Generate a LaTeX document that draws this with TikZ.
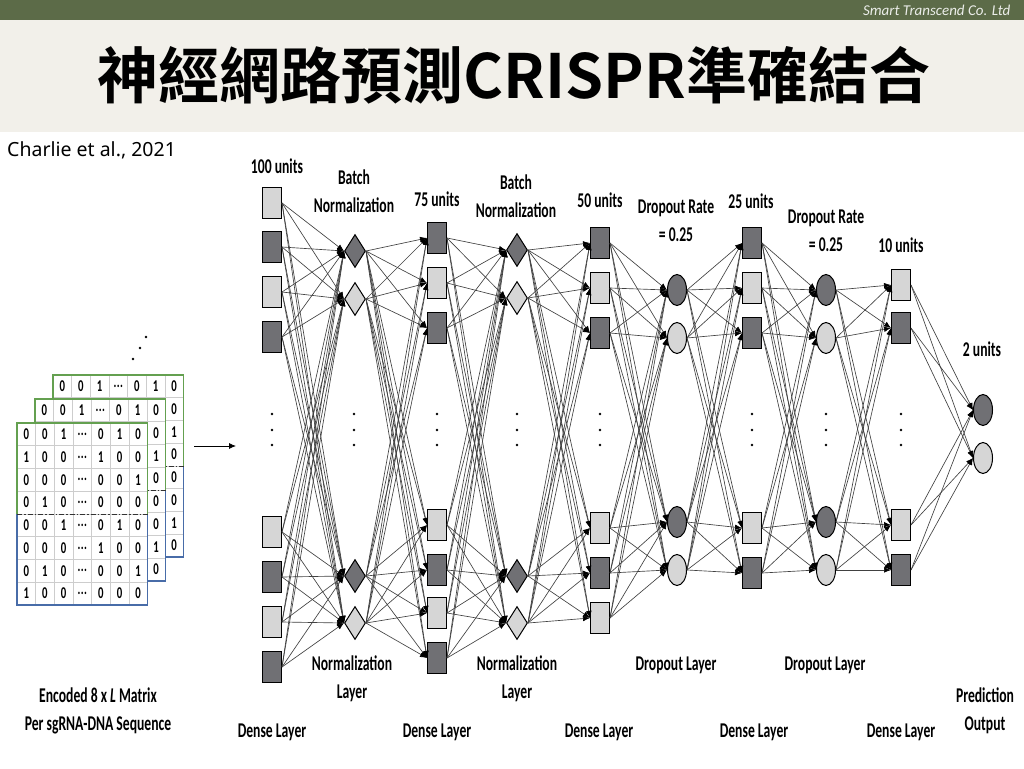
\documentclass[tikz,border=0pt]{standalone}
\usepackage{fontspec}
\setmainfont{Carlito}
\newfontfamily\lblfont[FakeStretch=0.65]{Carlito Bold}
\newfontfamily\titlefont{Noto Sans CJK TC Bold}
\newfontfamily\citefont{Noto Sans}
\usetikzlibrary{positioning,calc,shapes.geometric,arrows.meta}
\definecolor{hdrgreen}{RGB}{92,107,72}
\definecolor{hdrbeige}{RGB}{242,240,234}
\definecolor{unitdark}{RGB}{112,112,116}
\definecolor{unitlight}{RGB}{214,214,214}
\definecolor{linkgray}{RGB}{65,65,65}
\definecolor{matgreen}{RGB}{100,160,80}
\definecolor{matblue}{RGB}{72,108,168}
\definecolor{cellgray}{RGB}{205,205,205}
\newcommand{\celldots}{\raisebox{0pt}{.\kern0.4pt.\kern0.4pt.}}
% one column of units: name, shape, x, list of y/fill
\newcommand{\unitlayer}[4]{\foreach \y/\f [count=\k] in {#4} \node[#2,fill=\f] (#1\k) at (#3,\y) {};}
% every unit of one layer to every unit of the next
\newcommand{\fullconn}[4]{\foreach \p in {1,...,#2} \foreach \q in {1,...,#4} \draw[link] (#1\p.east) -- (#3\q.west);}
% one 8 x L one-hot table: x, y, name, 1 = all cells shown (else top row and last column)
\newcommand{\seqmat}[4]{%
  \fill[white] (#1,#2) rectangle ++(130.5,182);
  \foreach \g in {1,...,6} \draw[cellgray,line width=0.6pt] (#1+\g*18.64,#2) -- ++(0,182);
  \foreach \g in {1,...,7} \draw[cellgray,line width=0.6pt] (#1,#2+\g*22.75) -- ++(130.5,0);
  \foreach \row [count=\r] in {{0,0,1,\celldots,0,1,0},{1,0,0,\celldots,1,0,0},{0,0,0,\celldots,0,0,1},{0,1,0,\celldots,0,0,0},%
      {0,0,1,\celldots,0,1,0},{0,0,0,\celldots,1,0,0},{0,1,0,\celldots,0,0,1},{1,0,0,\celldots,0,0,0}}
    \foreach \v [count=\s] in \row {
      \pgfmathtruncatemacro\shown{(#4==1) || (\r==1) || (\s==7)}
      \ifnum\shown=1 \node[cell] (#3-\r-\s) at (#1+\s*18.64-9.32,#2+\r*22.75-11.4) {\v};\fi
    }
  \draw[matgreen,line width=1.3pt] (#1,#2+91) -- (#1,#2) -- ++(130.5,0) -- ++(0,91);
  \draw[matblue,line width=1.3pt] (#1,#2+91) -- (#1,#2+182) -- ++(130.5,0) -- ++(0,-91);
  \draw[black!80,line width=1pt,dash pattern=on 5pt off 2pt on 1.5pt off 2pt] (#1,#2+91) -- ++(130.5,0);
}

\begin{document}
\begin{tikzpicture}[x=1pt,y=-1pt,
  sq/.style={rectangle,draw=black,line width=1pt,minimum width=19pt,minimum height=31pt,inner sep=0pt},
  bn/.style={diamond,draw=black,line width=1pt,minimum width=21pt,minimum height=33pt,inner sep=0pt},
  dr/.style={ellipse,draw=black,line width=1pt,minimum width=19pt,minimum height=31pt,inner sep=0pt},
  link/.style={draw=linkgray,line width=0.65pt,-{Latex[length=7pt,width=5.5pt,black]}},
  lbl/.style={font=\lblfont\fontsize{21}{28}\selectfont,align=center,inner sep=0pt},
  cell/.style={font=\lblfont\fontsize{16.5}{16}\selectfont,inner sep=0pt}]

\useasboundingbox (0,0) rectangle (1024,768);
\fill[white] (0,0) rectangle (1024,768);

% header
\fill[hdrgreen] (0,0) rectangle (1024,20);
\fill[hdrbeige] (0,20) rectangle (1024,132);
\node[anchor=east,text=white!88!hdrgreen,font=\itshape\fontsize{15}{15}\selectfont] (firm) at (1014,10) {Smart Transcend Co. Ltd};
\node[font=\titlefont\fontsize{61}{61}\selectfont] (title) at (514,75) {神經網路預測CRISPR準確結合};
\node[anchor=west,font=\citefont\fontsize{19.5}{20}\selectfont,inner sep=0pt] (cite) at (7,150) {Charlie et al., 2021};

% input tables
\seqmat{53}{375}{mc}{0}
\seqmat{35}{399}{mb}{0}
\seqmat{17}{423}{ma}{1}
\fill (133,359) circle (1.4) (140,348) circle (1.4) (146,337) circle (1.4);
\coordinate (feedS) at (194,446);
\coordinate (feedE) at (236,446);
\draw[line width=0.8pt,-{Latex[length=7pt,width=6pt]}] (feedS) -- (feedE);

% units
\unitlayer{dA}{sq}{272}{203/unitlight,247/unitdark,292/unitlight,337/unitdark,532/unitlight,577/unitdark,622/unitlight,667/unitdark}
\unitlayer{nA}{bn}{355}{251/unitdark,299/unitlight,576/unitdark,623/unitlight}
\unitlayer{dB}{sq}{437}{238/unitdark,283/unitlight,328/unitdark,525/unitlight,570/unitdark,613/unitlight,658/unitdark}
\unitlayer{nB}{bn}{517}{250/unitdark,298/unitlight,576/unitdark,623/unitlight}
\unitlayer{dC}{sq}{600}{243/unitdark,288/unitlight,333/unitdark,528/unitlight,573/unitdark,618/unitlight}
\unitlayer{pA}{dr}{677}{290/unitdark,338/unitlight,522/unitdark,570/unitlight}
\unitlayer{dD}{sq}{752}{243/unitdark,288/unitlight,333/unitdark,528/unitlight,573/unitdark}
\unitlayer{pB}{dr}{826}{290/unitdark,338/unitlight,522/unitdark,570/unitlight}
\unitlayer{dE}{sq}{901}{285/unitlight,328/unitdark,525/unitlight,570/unitdark}
\unitlayer{out}{dr}{983}{410/unitdark,458/unitlight}

\fullconn{dA}{8}{nA}{4}
\fullconn{nA}{4}{dB}{7}
\fullconn{dB}{7}{nB}{4}
\fullconn{nB}{4}{dC}{6}
\fullconn{dC}{6}{pA}{4}
\fullconn{pA}{4}{dD}{5}
\fullconn{dD}{5}{pB}{4}
\fullconn{pB}{4}{dE}{4}
\fullconn{dE}{4}{out}{2}

\foreach \x in {272,354,437,517,600,752,826,901}
  \fill (\x,414) circle (1.4) (\x,430) circle (1.4) (\x,445) circle (1.4);

% labels
\node[lbl] (uA) at (277,166) {100 units};
\node[lbl] (tA) at (354,191) {Batch\\Normalization};
\node[lbl] (uB) at (437,199) {75 units};
\node[lbl] (tB) at (516,196) {Batch\\Normalization};
\node[lbl] (uC) at (600,200) {50 units};
\node[lbl] (tC) at (676,221) {Dropout Rate\\= 0.25};
\node[lbl] (uD) at (751,201) {25 units};
\node[lbl] (tD) at (826,231) {Dropout Rate\\= 0.25};
\node[lbl] (uE) at (901,245) {10 units};
\node[lbl] (uF) at (982,349) {2 units};
\node[lbl] (bA) at (352,679) {Normalization\\Layer};
\node[lbl] (bB) at (517,679) {Normalization\\Layer};
\node[lbl] (bC) at (676,665) {Dropout Layer};
\node[lbl] (bD) at (825,665) {Dropout Layer};
\node[lbl] (lA) at (272,732) {Dense Layer};
\node[lbl] (lB) at (437,732) {Dense Layer};
\node[lbl] (lC) at (599,732) {Dense Layer};
\node[lbl] (lD) at (754,732) {Dense Layer};
\node[lbl] (lE) at (901,732) {Dense Layer};
\node[lbl] (pred) at (985,711) {Prediction\\Output};
\node[lbl] (enc) at (98,711) {Encoded 8 x \textit{L} Matrix\\Per sgRNA-DNA Sequence};

\end{tikzpicture}
\end{document}
